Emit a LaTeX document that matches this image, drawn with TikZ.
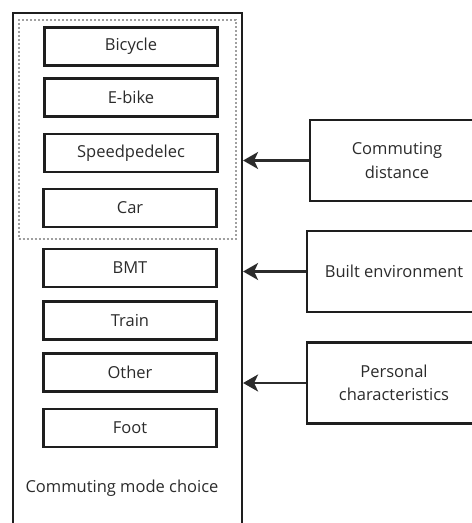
\documentclass[tikz,border=0pt]{standalone}
\usepackage{fontspec}
\setmainfont{Open Sans}
\usetikzlibrary{arrows.meta}
\definecolor{ink}{HTML}{1E1E1E}
\definecolor{txt}{HTML}{2B2B2B}
\definecolor{dots}{HTML}{A0A0A0}
\begin{document}
\begin{tikzpicture}[x=1pt,y=-1pt,
  font=\fontsize{16.5}{23.5}\selectfont, text=txt,
  mode/.style={draw=ink, line width=2.2pt, minimum width=173pt, minimum height=38pt, inner sep=0pt},
  factor/.style={draw=ink, line width=2.2pt, minimum width=174pt, minimum height=81pt, inner sep=0pt, align=center},
  link/.style={draw=txt, line width=2.2pt, -{Stealth[length=15pt,width=17pt,inset=4pt]}}]
\useasboundingbox (0,0) rectangle (472,523);
\clip (0,0) rectangle (472,523);
% container for all commuting modes
\node[draw=ink, line width=2.2pt, minimum width=229pt, minimum height=560pt, inner sep=0pt] (outer) at (127.5,293) {};
% dotted grouping of the first four modes
\node[draw=dots, line width=2pt, dash pattern=on 2pt off 2pt, minimum width=217pt, minimum height=219pt, inner sep=0pt] (group) at (127,129) {};
% commuting modes
\node[mode] (bicycle) at (131,46.5) {Bicycle};
\node[mode] (ebike) at (131,97.5) {E-bike};
\node[mode] (speed) at (131,153) {Speedpedelec};
\node[mode] (car) at (130,208) {Car};
\node[mode] (bmt) at (130,268) {BMT};
\node[mode] (train) at (130,320.5) {Train};
\node[mode] (other) at (130,372.5) {Other};
\node[mode] (foot) at (130,428) {Foot};
\node (label) at (122,488) {Commuting mode choice};
% influencing factors
\node[factor] (dist) at (397,160.5) {Commuting\\distance};
\node[factor] (built) at (394,271.5) {Built environment};
\node[factor] (pers) at (394,383) {Personal\\characteristics};
% arrows into the container
\draw[link] (dist.west) -- (dist.west -| outer.east);
\draw[link] (built.west) -- (built.west -| outer.east);
\draw[link] (pers.west) -- (pers.west -| outer.east);
\end{tikzpicture}
\end{document}
